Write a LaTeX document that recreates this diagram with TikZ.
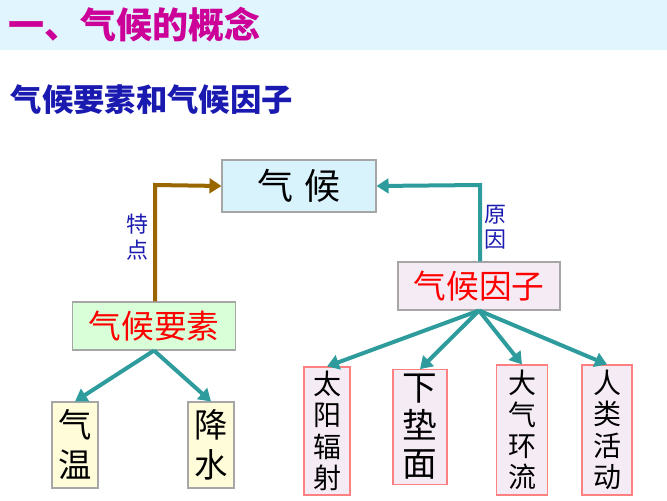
\documentclass[tikz,border=0pt]{standalone}
\usepackage{fontspec}
\newfontfamily\cjk{Noto Sans CJK SC}
\usetikzlibrary{arrows.meta}
\definecolor{tealc}{HTML}{2E9C9C}
\definecolor{brownc}{HTML}{996600}
\definecolor{titlec}{HTML}{CC0099}
\definecolor{bluec}{HTML}{1A1AB0}
\tikzset{
  bx/.style={draw=gray!70, line width=0.8pt, inner sep=0pt, font=\cjk},
  vbox/.style={bx, draw=red!50, fill=violet!8, align=center, font=\cjk\fontsize{21}{23.5}\selectfont},
  ybox/.style={bx, fill=yellow!15, align=center, font=\cjk\fontsize{25}{30}\selectfont},
  arr/.style={line width=3pt, -{Triangle[length=9pt,width=11pt]}, tealc},
}
\begin{document}
\begin{tikzpicture}[x=0.75pt,y=-0.75pt]
\useasboundingbox (0,0) rectangle (667,500);
\fill[cyan!12] (0,0) rectangle (667,50);
\node[anchor=west, text=titlec, font=\cjk\bfseries\fontsize{27}{30}\selectfont] (title) at (4,25) {一、气候的概念};
\node[anchor=west, text=bluec, font=\cjk\bfseries\fontsize{23.5}{26}\selectfont] (sub) at (6,100) {气候要素和气候因子};
\node[bx, fill=cyan!15, minimum width=115.5pt, minimum height=39pt, font=\cjk\fontsize{27}{30}\selectfont] (qh) at (299,186) {气\hspace{8pt}候};
\node[bx, fill=violet!8, text=red, minimum width=121.5pt, minimum height=36pt, font=\cjk\fontsize{24.5}{26}\selectfont] (yz) at (479,286) {气候因子};
\node[bx, fill=green!15, text=red, minimum width=122pt, minimum height=36pt, font=\cjk\fontsize{24.5}{26}\selectfont] (ys) at (154,326) {气候要素};
\node[ybox, minimum width=34.5pt, minimum height=64.5pt] (qw) at (75,445) {气\\温};
\node[ybox, minimum width=34.5pt, minimum height=64.5pt] (js) at (211,445) {降\\水};
\node[vbox, minimum width=34.5pt, minimum height=96pt] (ty) at (327,431) {太\\阳\\辐\\射};
\node[vbox, minimum width=40.5pt, minimum height=86pt, font=\cjk\fontsize{26}{28.5}\selectfont] (xd) at (420,427) {下\\垫\\面};
\node[vbox, minimum width=38pt, minimum height=97.5pt] (dq) at (522,430) {大\\气\\环\\流};
\node[vbox, minimum width=37.5pt, minimum height=97.5pt] (rl) at (607,430) {人\\类\\活\\动};
\coordinate (c1) at (155,185);
\coordinate (c2) at (480,185);
\draw[arr, brownc] (ys.north -| c1) -- (c1) -- (qh.west);
\draw[arr] (yz.north -| c2) -- (c2) -- (qh.east);
\node[text=bluec, align=center, font=\cjk\fontsize{16.5}{19}\selectfont] (td) at (137,237) {特\\点};
\node[text=bluec, align=center, font=\cjk\fontsize{16.5}{19}\selectfont] (yy) at (495,227) {原\\因};
\draw[arr] (ys.south) -- (qw.north);
\draw[arr] (ys.south) -- (js.north);
\draw[arr] (yz.south) -- (ty.north);
\draw[arr] (yz.south) -- (xd.north);
\draw[arr] (yz.south) -- (dq.north);
\draw[arr] (yz.south) -- (rl.north);
\end{tikzpicture}
\end{document}
